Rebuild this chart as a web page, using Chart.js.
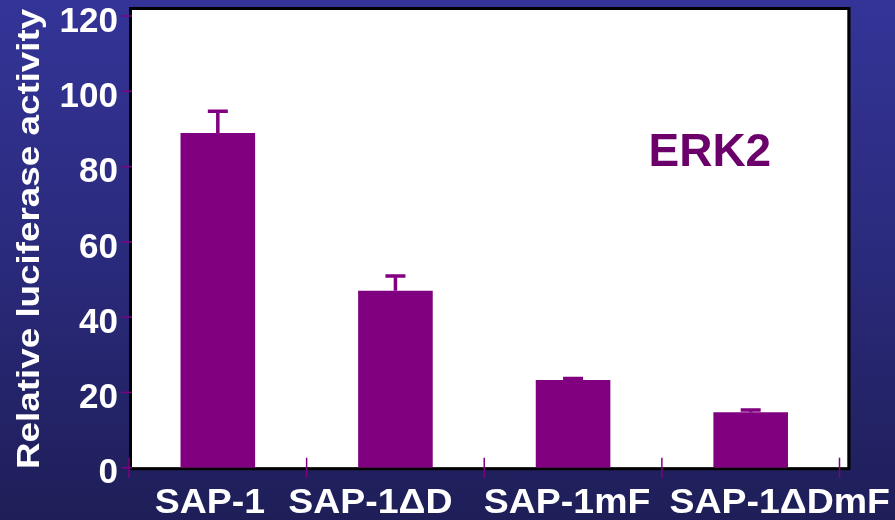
<!DOCTYPE html>
<html>
<head>
<meta charset="utf-8">
<script src="https://cdn.jsdelivr.net/npm/chart.js@4"></script>
<style>
  html, body {
    margin: 0;
    padding: 0;
    width: 895px;
    height: 520px;
    overflow: hidden;
    background: linear-gradient(to bottom, #343498 0%, #2a2a7c 50%, #1e1e58 100%);
  }
  #wrap { position: relative; width: 895px; height: 520px; }
</style>
</head>
<body>
<div id="wrap"><canvas id="lucChart"></canvas></div>
<script>
const categories = ["SAP-1", "SAP-1\u0394D", "SAP-1mF", "SAP-1\u0394DmF"];
const activity = [88.9, 47.0, 23.3, 14.7];
const activityErr = [5.8, 3.9, 0.4, 0.6];
const yTicks = [0, 20, 40, 60, 80, 100, 120];
const yTitle = "Relative luciferase activity";
const panelLabel = "ERK2";
const panelLabelPos = [2.77, 80.2]; // category index, y value of baseline

// category labels sit a little off the bar centres (pixels)
const labelShift = [-8, -25, -6, 29];

const BAR_COLOR = "#800080";
const FONT = "'Liberation Sans', Arial, sans-serif";

// white plot panel with black frame, tick marks, error bars and the text
const framePlugin = {
  id: "frame",
  beforeDatasetsDraw(chart) {
    const { ctx, chartArea: a, scales: { x, y } } = chart;
    const left = a.left + 3, top = a.top - 6, right = a.right + 8, bottom = a.bottom;
    ctx.save();
    ctx.fillStyle = "#ffffff";
    ctx.fillRect(left, top, right - left, bottom - top);
    ctx.strokeStyle = "#000000";
    ctx.lineWidth = 3;
    ctx.strokeRect(left - 1.5, top - 1.5, right - left + 3, bottom - top + 2.5);

    ctx.strokeStyle = BAR_COLOR;
    ctx.lineWidth = 1.5;
    yTicks.forEach((v) => {
      const py = y.getPixelForValue(v);
      ctx.beginPath();
      ctx.moveTo(left - 11, py);
      ctx.lineTo(left, py);
      ctx.stroke();
    });
    const step = (x.right - x.left) / categories.length;
    for (let i = 0; i <= categories.length; i++) {
      const px = x.left + i * step;
      ctx.beginPath();
      ctx.moveTo(px, y.bottom - 10);
      ctx.lineTo(px, y.bottom + 10);
      ctx.stroke();
    }
    ctx.restore();
  },
  afterDatasetsDraw(chart) {
    const { ctx, chartArea: a, scales: { x, y } } = chart;
    ctx.save();
    // error bars (upper half only)
    ctx.strokeStyle = BAR_COLOR;
    ctx.lineWidth = 3.5;
    activity.forEach((v, i) => {
      const px = x.getPixelForValue(i);
      const top = y.getPixelForValue(v + activityErr[i]);
      const base = y.getPixelForValue(v);
      ctx.beginPath();
      ctx.moveTo(px, base);
      ctx.lineTo(px, top);
      ctx.moveTo(px - 10, top);
      ctx.lineTo(px + 10, top);
      ctx.stroke();
    });

    // panel label
    ctx.fillStyle = "#6b006b";
    ctx.font = "bold 46px " + FONT;
    ctx.textAlign = "center";
    ctx.textBaseline = "alphabetic";
    ctx.fillText(panelLabel, x.getPixelForValue(panelLabelPos[0]), y.getPixelForValue(panelLabelPos[1]));

    // category labels, slightly widened
    ctx.fillStyle = "#ffffff";
    ctx.font = "bold 35px " + FONT;
    categories.forEach((c, i) => {
      ctx.save();
      ctx.translate(x.getPixelForValue(i) + labelShift[i], a.bottom + 45.5);
      ctx.scale(1.07, 1);
      ctx.fillText(c, 0, 0);
      ctx.restore();
    });

    // axis title, rotated and stretched along its length
    ctx.save();
    ctx.translate(30, (a.top + a.bottom) / 2 - 3);
    ctx.rotate(-Math.PI / 2);
    ctx.scale(1.15, 1);
    ctx.font = "bold 32px " + FONT;
    ctx.textBaseline = "middle";
    ctx.fillText(yTitle, 0, 0);
    ctx.restore();
    ctx.restore();
  }
};

new Chart(document.getElementById("lucChart"), {
  type: "bar",
  data: {
    labels: categories,
    datasets: [{
      data: activity,
      backgroundColor: BAR_COLOR,
      borderWidth: 0,
      categoryPercentage: 1,
      barPercentage: 0.42
    }]
  },
  options: {
    responsive: true,
    maintainAspectRatio: false,
    animation: false,
    layout: { padding: { top: 16, right: 55.5, bottom: 0, left: 0 } },
    plugins: {
      legend: { display: false },
      tooltip: { enabled: false }
    },
    scales: {
      x: {
        afterFit(scale) {
          scale.height = 52.3;
          scale.paddingLeft = 0;
          scale.paddingRight = 0;
        },
        grid: { display: false, drawTicks: false },
        border: { display: false },
        ticks: { display: false }
      },
      y: {
        min: 0,
        max: 120,
        afterFit(scale) {
          scale.width = 129;
          scale.paddingTop = 0;
          scale.paddingBottom = 0;
        },
        afterBuildTicks(scale) { scale.ticks = yTicks.map((v) => ({ value: v })); },
        grid: { display: false, drawTicks: false },
        border: { display: false },
        ticks: {
          color: "#ffffff",
          font: { family: FONT, size: 35, weight: "bold", lineHeight: 1 },
          padding: 11,
          labelOffset: 6
        }
      }
    }
  },
  plugins: [framePlugin]
});
</script>
</body>
</html>
